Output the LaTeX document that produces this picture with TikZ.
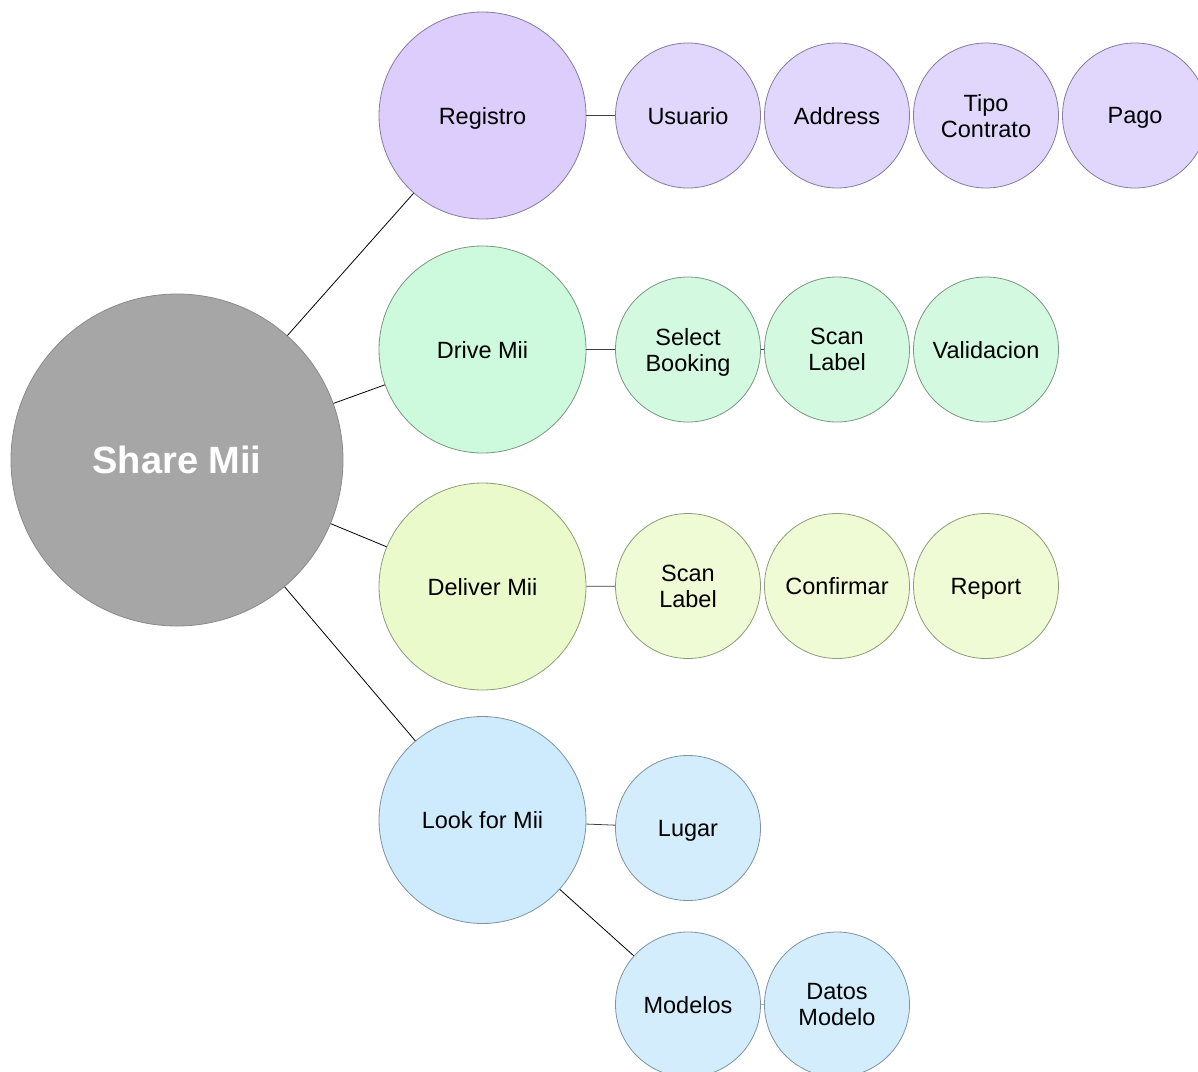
\documentclass[tikz,border=0pt]{standalone}
\usepackage{fontspec}
\setmainfont{Liberation Sans}
\definecolor{maingray}{HTML}{A6A6A6}
\definecolor{mainedge}{HTML}{8A8A8A}
\definecolor{purA}{HTML}{DCCDFC}
\definecolor{purB}{HTML}{E1D7FC}
\definecolor{purE}{HTML}{857C9E}
\definecolor{grnA}{HTML}{CDFADC}
\definecolor{grnB}{HTML}{D3FAE1}
\definecolor{grnE}{HTML}{7B9683}
\definecolor{ylwA}{HTML}{EBFACB}
\definecolor{ylwB}{HTML}{EEFBD4}
\definecolor{ylwE}{HTML}{8E9C7A}
\definecolor{bluA}{HTML}{CDEBFD}
\definecolor{bluB}{HTML}{D4EDFC}
\definecolor{bluE}{HTML}{7D93A2}
\tikzset{
  bubble/.style={circle, inner sep=0pt, line width=0.8pt, align=center,
    text depth=0pt, font=\fontsize{23.5}{26}\selectfont},
  hub/.style={bubble, minimum size=332pt, fill=maingray, draw=mainedge,
    text=white, font=\fontsize{38}{42}\selectfont\bfseries},
  topic/.style={bubble, minimum size=207pt},
  leaf/.style={bubble, minimum size=145pt},
  link/.style={line width=0.8pt, black},
  sublink/.style={line width=0.8pt, black!75},
  faint/.style={line width=0.8pt, black!30}
}
\begin{document}
\begin{tikzpicture}[x=1pt, y=-1pt]
\useasboundingbox (0,0) rectangle (1198,1071);
\clip (0,0) rectangle (1198,1071);

% central hub
\node[hub] (share) at (177,460) {Share Mii};

% first ring of topics
\node[topic, fill=purA, draw=purE] (reg)  at (482.5,115.5) {Registro};
\node[topic, fill=grnA, draw=grnE] (drv)  at (482.5,349.5) {Drive Mii};
\node[topic, fill=ylwA, draw=ylwE] (dlv)  at (482.5,586.5) {Deliver Mii};
\node[topic, fill=bluA, draw=bluE] (look) at (482.5,820) {Look for Mii};

% Registro steps
\node[leaf, fill=purB, draw=purE] (usr)  at (688,115.5)  {Usuario};
\node[leaf, fill=purB, draw=purE] (addr) at (837,115.5)  {Address};
\node[leaf, fill=purB, draw=purE] (tipo) at (986,115.5)  {Tipo\\Contrato};
\node[leaf, fill=purB, draw=purE] (pago) at (1135,115.5) {Pago};

% Drive Mii steps
\node[leaf, fill=grnB, draw=grnE] (sel)  at (688,349.5) {Select\\Booking};
\node[leaf, fill=grnB, draw=grnE] (scnA) at (837,349.5) {Scan\\Label};
\node[leaf, fill=grnB, draw=grnE] (val)  at (986,349.5) {Validacion};

% Deliver Mii steps
\node[leaf, fill=ylwB, draw=ylwE] (scnB) at (688,586) {Scan\\Label};
\node[leaf, fill=ylwB, draw=ylwE] (conf) at (837,586) {Confirmar};
\node[leaf, fill=ylwB, draw=ylwE] (rep)  at (986,586) {Report};

% Look for Mii steps
\node[leaf, fill=bluB, draw=bluE] (lug)  at (688,828)    {Lugar};
\node[leaf, fill=bluB, draw=bluE] (mod)  at (688,1004.5) {Modelos};
\node[leaf, fill=bluB, draw=bluE] (dat)  at (837,1004.5) {Datos\\Modelo};

% connectors
\draw[link] (share) -- (reg);
\draw[link] (share) -- (drv);
\draw[link] (share) -- (dlv);
\draw[link] (share) -- (look);

\draw[sublink] (reg) -- (usr);
\draw[sublink] (drv) -- (sel);
\draw[sublink] (sel) -- (scnA);
\draw[sublink] (dlv) -- (scnB);
\draw[sublink] (look) -- (lug);
\draw[link] (look) -- (mod);
\draw[faint] (mod) -- (dat);
\end{tikzpicture}
\end{document}
